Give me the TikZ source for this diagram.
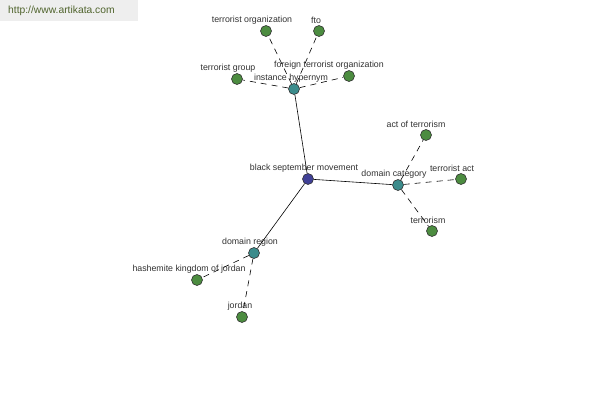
\documentclass[tikz,border=0pt]{standalone}
\usepackage{fontspec}
\setmainfont{Liberation Sans}
\usepackage{xcolor}
\definecolor{hubblue}{RGB}{64,64,150}
\definecolor{relteal}{RGB}{60,140,140}
\definecolor{leafgreen}{RGB}{76,140,64}
\definecolor{lbltext}{RGB}{50,50,50}
\definecolor{wmtext}{RGB}{80,100,45}
\tikzset{
  hub/.style={circle,draw=black!80,fill=hubblue,minimum size=11pt,inner sep=0pt,line width=0.6pt},
  rel/.style={circle,draw=black!80,fill=relteal,minimum size=11pt,inner sep=0pt,line width=0.6pt},
  leaf/.style={circle,draw=black!80,fill=leafgreen,minimum size=11pt,inner sep=0pt,line width=0.6pt},
  lbl/.style={font=\fontsize{8.8}{9}\selectfont,text=lbltext,inner sep=1pt},
  link/.style={draw=black,line width=0.6pt},
  dashlink/.style={draw=black,line width=0.6pt,dash pattern=on 6pt off 5pt},
  watermark/.style={fill=gray!13,anchor=north west,align=left,text width=122pt,inner xsep=8pt,minimum height=21pt,font=\fontsize{10.3}{11}\selectfont,text=wmtext}
}

\begin{document}
\begin{tikzpicture}[x=1pt,y=-1pt]
  \useasboundingbox[fill=white] (0,0) rectangle (600,400);
  \node (wm) [watermark] at (0,0) {http://www.artikata.com};

  \node (bsm) [hub,label={[lbl,xshift=-4pt]above:black september movement}] at (308,179) {};
  \node (hypernym) [rel,label={[lbl,xshift=-3pt]above:instance hypernym}] at (294,89) {};
  \node (domcat) [rel,label={[lbl,xshift=-4pt]above:domain category}] at (398,185) {};
  \node (domreg) [rel,label={[lbl,xshift=-4pt]above:domain region}] at (254,253) {};

  \node (terorg) [leaf,label={[lbl,xshift=-14pt]above:terrorist organization}] at (266,31) {};
  \node (fto) [leaf,label={[lbl,xshift=-3pt]above:fto}] at (319,31) {};
  \node (tergroup) [leaf,label={[lbl,xshift=-9pt]above:terrorist group}] at (237,79) {};
  \node (foreignorg) [leaf,label={[lbl,xshift=-20pt]above:foreign terrorist organization}] at (349,76) {};

  \node (actofterror) [leaf,label={[lbl,xshift=-10pt]above:act of terrorism}] at (426,135) {};
  \node (teract) [leaf,label={[lbl,xshift=-9pt]above:terrorist act}] at (461,179) {};
  \node (terrorism) [leaf,label={[lbl,xshift=-4pt]above:terrorism}] at (432,231) {};

  \node (hashemite) [leaf,label={[lbl,xshift=-8pt]above:hashemite kingdom of jordan}] at (197,280) {};
  \node (jordan) [leaf,label={[lbl,xshift=-2pt]above:jordan}] at (242,317) {};

  \draw[link] (bsm) -- (hypernym);
  \draw[link] (bsm) -- (domcat);
  \draw[link] (bsm) -- (domreg);

  \foreach \leaf in {terorg,fto,tergroup,foreignorg}
    \draw[dashlink] (hypernym) -- (\leaf);
  \foreach \leaf in {actofterror,teract,terrorism}
    \draw[dashlink] (domcat) -- (\leaf);
  \foreach \leaf in {hashemite,jordan}
    \draw[dashlink] (domreg) -- (\leaf);
\end{tikzpicture}
\end{document}
